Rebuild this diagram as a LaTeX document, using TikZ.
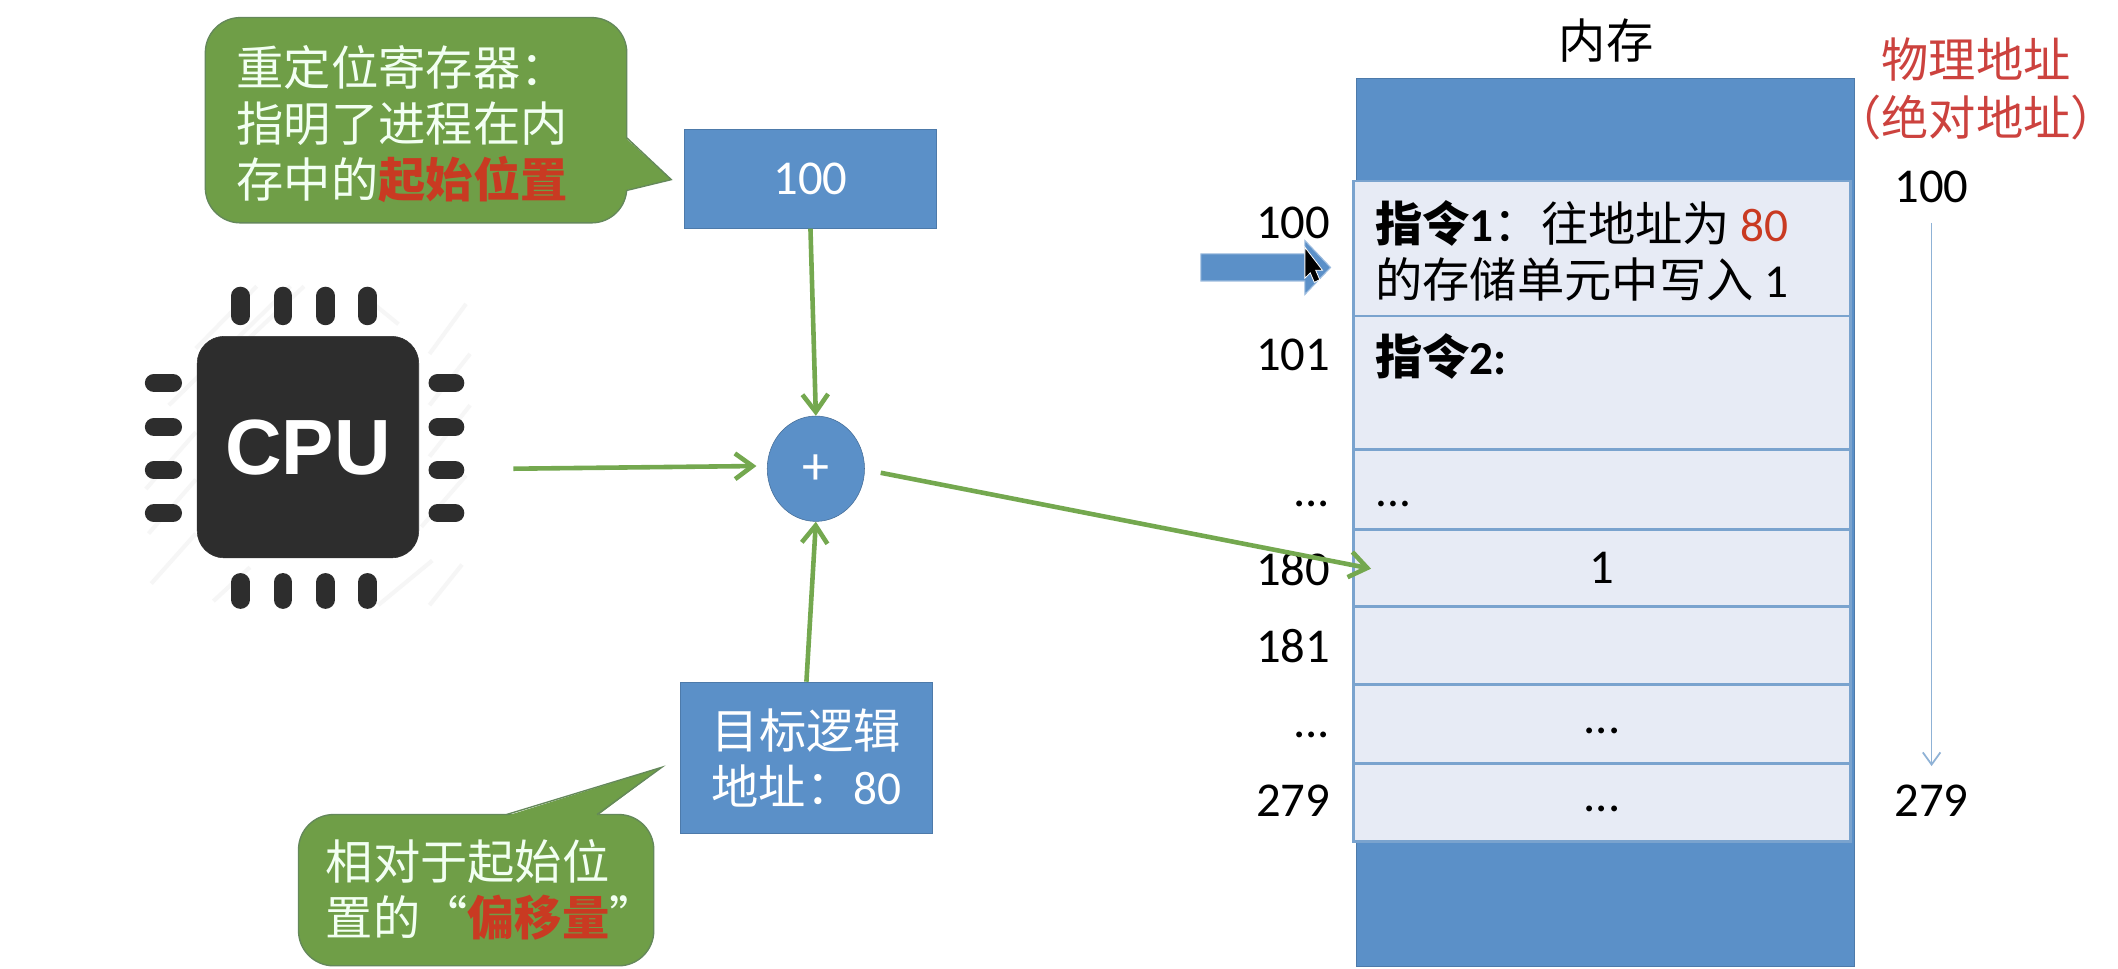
\documentclass[tikz,border=0pt]{standalone}
\usepackage{fontspec}
\setmainfont{Carlito}
\newfontfamily\cjk{Noto Sans CJK SC}
\newfontfamily\chipfont{Liberation Sans}
\usetikzlibrary{arrows.meta,shapes.geometric}
\definecolor{boxblue}{HTML}{5B90C8}
\definecolor{cellfill}{HTML}{E7EBF5}
\definecolor{celledge}{HTML}{7AA3CE}
\definecolor{callgreen}{HTML}{6F9E47}
\definecolor{calledge}{HTML}{64885A}
\definecolor{linkgreen}{HTML}{74A84F}
\definecolor{accent}{HTML}{C93A22}
\definecolor{softred}{HTML}{CC423E}
\definecolor{chip}{HTML}{2D2D2D}
\definecolor{hatchgrey}{HTML}{F6F6F6}
\definecolor{thinblue}{HTML}{8FB2D6}
\newcommand{\numsize}{\fontsize{36}{41}\selectfont}
\tikzset{
  txt/.style={inner sep=0pt,font=\fontsize{35}{41.5}\selectfont,text=black},
  whitetxt/.style={txt,text=white!95!green},
  bluebox/.style={draw=boxblue!85!black,line width=.6pt,fill=boxblue,inner sep=0pt,text=white,font=\fontsize{35}{41.5}\selectfont,align=center},
  cell/.style={draw=celledge,line width=2pt,fill=cellfill,inner sep=0pt,minimum width=368pt,font=\numsize},
  callbody/.style={draw=calledge,line width=1pt,fill=callgreen,rounded corners=26pt},
  link/.style={draw=linkgreen,line width=3.4pt,-{Straight Barb[length=13pt,width=19pt,line width=3.4pt]}},
  pin/.style={draw=chip,line width=13.5pt,line cap=round},
  hatch/.style={draw=hatchgrey,line width=3pt},
  addr/.style={txt,anchor=east,font=\numsize},
  redtxt/.style={txt,text=softred}
}
\begin{document}
\begin{tikzpicture}[x=1pt,y=-1pt]
\useasboundingbox (0,0) rectangle (1568,717);
\fill[white] (0,0) rectangle (1568,717);

% CPU hatching
\foreach \a/\b/\c/\d in {145/258/190/212, 125/300/215/212, 172/262/225/212, 268/218/295/240, 318/262/345/225, 318/300/348/262, 318/338/348/300, 312/390/345/352, 108/362/145/320, 110/395/145/355, 112/432/145/395, 158/445/185/420, 280/448/320/415, 318/448/342/418}
  \draw[hatch] (\a,\b) -- (\c,\d);

% CPU pins
\foreach \px in {178,209.5,241,272}{
  \draw[pin] (\px,219) -- (\px,234);
  \draw[pin] (\px,431) -- (\px,444);
}
\foreach \py in {283.5,316,348,380}{
  \draw[pin] (114,\py) -- (128,\py);
  \draw[pin] (324,\py) -- (337,\py);
}
\node[draw=chip,fill=chip,rounded corners=20pt,minimum width=164pt,minimum height=164pt,inner sep=0pt,text=white,font=\fontsize{58}{58}\selectfont\chipfont\bfseries] (cpu) at (228,331) {CPU};
\coordinate (cpuout) at (380,347);

% adder and registers
\node[bluebox,font=\numsize,minimum width=186pt,minimum height=73pt] (reg) at (600,132.5) {100};
\node[bluebox,minimum width=186pt,minimum height=112pt] (logic) at (597,561) {{\cjk 目标逻辑}\\{\cjk 地址：}80};
\node[draw=boxblue!75!black,fill=boxblue,ellipse,minimum width=72pt,minimum height=78pt,inner sep=0pt,text=white,font=\fontsize{40}{40}\selectfont] (plus) at (604,347) {\raisebox{-11.5pt}[0pt][0pt]{+}};

% callout 1
\draw[callbody] (152,13) rectangle (464,165);
\fill[callgreen] (463,102) -- (497,133) -- (463,141) -- cycle;
\draw[calledge,line width=1pt] (464,102) -- (497,133) -- (464,141);
\node[whitetxt,anchor=west,align=left] (c1) at (175,92) {{\cjk 重定位寄存器：}\\{\cjk 指明了进程在内}\\{\cjk 存中的\textcolor{accent}{\bfseries 起始位置}}};

% callout 2
\draw[callbody] (221,603) rectangle (484,715);
\fill[callgreen] (375,604) -- (490,568) -- (442,604) -- cycle;
\draw[calledge,line width=1pt] (375,603) -- (490,568) -- (442,603);
\node[whitetxt,anchor=west,align=left] (c2) at (241,659) {{\cjk 相对于起始位}\\{\cjk 置的“\textcolor{accent}{\bfseries 偏移量}”}};

% memory
\node[draw=boxblue!85!black,fill=boxblue,minimum width=369pt,minimum height=657pt,inner sep=0pt] (mem) at (1188.5,386.5) {};
\node[txt] (memt) at (1189,30) {\cjk 内存};
\node[cell,minimum height=100pt] (m1) at (1186,184) {};
\node[cell,minimum height=99pt] (m2) at (1186,283.5) {};
\node[cell,minimum height=59pt] (m3) at (1186,362.5) {};
\node[cell,minimum height=57pt] (m4) at (1186,420.5) {1};
\node[cell,minimum height=58pt] (m5) at (1186,478) {};
\node[cell,minimum height=58pt] (m6) at (1186,536) {\raisebox{-7pt}[0pt][0pt]{...}};
\node[cell,minimum height=58pt] (m7) at (1186,594) {\raisebox{-7pt}[0pt][0pt]{...}};

\node[txt,anchor=west,align=left] (t1) at (1018,186) {{\cjk\bfseries 指令}\textbf{1}{\cjk ：往地址为 }\textcolor{accent}{80}\\{\cjk 的存储单元中写入 }1};
\node[txt,anchor=west] (t2) at (1018,264) {{\cjk\bfseries 指令}\textbf{2}\textbf{:}};
\node[txt,anchor=west] (t3) at (1018,373) {...};

% left addresses
\node[addr] (a100) at (985,165) {100};
\node[addr] (a101) at (985,263) {101};
\node[addr] (adots) at (985,373) {...};
\node[addr] (a180) at (985,421) {180};
\node[addr] (a181) at (985,478) {181};
\node[addr] (adots2) at (985,544) {...};
\node[addr] (a279) at (985,593) {279};

% physical addresses
\node[redtxt] (ph1) at (1463,44) {\cjk 物理地址};
\node[redtxt] (ph2) at (1463,87) {\cjk （绝对地址）};
\node[txt,font=\numsize] (p100) at (1430,138) {100};
\node[txt,font=\numsize] (p279) at (1430,593) {279};
\draw[draw=thinblue,line width=1.3pt,-{Straight Barb[length=9pt,width=13pt,line width=1.3pt]},shorten <=15pt,shorten >=14pt] (p100.south) -- (p279.north);

% connectors
\draw[link] (reg.south) -- (plus.north);
\draw[link] (logic.north) -- (plus.south);
\coordinate (plusin) at (560,345);
\draw[link] (cpuout) -- (plusin);
\coordinate (plusout) at (652,350);
\coordinate (cellin) at (1015,421);
\draw[link] (plusout) -- (cellin);

% current instruction arrow and pointer
\fill[boxblue,draw=boxblue!60!white,line width=.8pt] (889,188) -- (966,188) -- (966,178) -- (985,198) -- (966,218) -- (966,208) -- (889,208) -- cycle;
\fill[black,draw=white,line width=.6pt] (966,183) -- (966,206) -- (970,202) -- (973,209) -- (977,207) -- (974,200) -- (979,200) -- cycle;
\end{tikzpicture}
\end{document}
